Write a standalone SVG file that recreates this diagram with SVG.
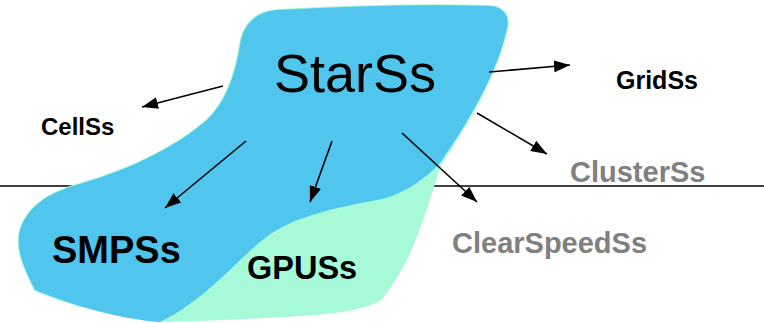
<svg xmlns="http://www.w3.org/2000/svg" width="764" height="323" viewBox="0 0 764 323">
  <style>
    .lbl { font-family: "Liberation Sans", Arial, sans-serif; font-weight: bold; fill: #000; }
    .grey { fill: #808080; }
    .edge { stroke: #000; stroke-width: 1.6; fill: none; marker-end: url(#head); }
  </style>
  <defs>
    <marker id="head" markerUnits="userSpaceOnUse" viewBox="0 0 16 12" markerWidth="16" markerHeight="12" refX="16" refY="6" orient="auto">
      <path d="M0,0 L16,6 L0,12 Z" fill="#000"/>
    </marker>
  </defs>

  <rect width="764" height="323" fill="#fff"/>

  <!-- horizontal divider -->
  <line x1="0" y1="186" x2="764" y2="186" stroke="#000" stroke-width="1.6"/>

  <!-- the StarSs family blob: mint outer region with the blue core on top -->
  <g id="blob">
    <path id="gpu-region" d="M277,10 C350,6 430,4 490,6 C505,7 511,18 506,32 C498,70 470,120 440,165 C425,210 415,255 382,298 C360,315 300,316 167,321 C130,320 70,305 35,290 C25,270 15,250 20,230 C28,205 50,192 83,183 C120,172 170,152 207,120 C228,100 236,70 240,45 C243,25 255,12 277,10 Z" fill="#A6FAD8" stroke="#A6FAD8" stroke-width="2"/>
    <path id="smp-region" d="M277,10 C350,6 430,4 490,6 C505,7 511,18 506,32 C498,70 470,120 440,163 C425,180 400,195 382,199 C340,207 295,215 265,238 C235,262 205,300 160,322 C125,320 70,305 35,290 C25,270 15,250 20,230 C28,205 50,192 83,183 C120,172 170,152 207,120 C228,100 236,70 240,45 C243,25 255,12 277,10 Z" fill="#50C5ED"/>
  </g>

  <g id="starss"><text x="274" y="92" font-family="Liberation Sans, Arial, sans-serif" font-size="54" fill="#000">StarSs</text></g>
  <g id="cellss"><text class="lbl" x="41" y="135" font-size="24">CellSs</text></g>
  <g id="gridss"><text class="lbl" x="616" y="89" font-size="25">GridSs</text></g>
  <g id="clusterss"><text class="lbl grey" x="570" y="182" font-size="29">ClusterSs</text></g>
  <g id="clearspeedss"><text class="lbl grey" x="452" y="253" font-size="29">ClearSpeedSs</text></g>
  <g id="smpss"><text class="lbl" x="52" y="263" font-size="38">SMPSs</text></g>
  <g id="gpuss"><text class="lbl" x="247" y="279" font-size="32.5">GPUSs</text></g>

  <!-- arrows from StarSs to each runtime -->
  <g id="connectors">
    <line class="edge" x1="223" y1="86" x2="142" y2="107"/>
    <line class="edge" x1="489" y1="72" x2="570" y2="65"/>
    <line class="edge" x1="477" y1="113" x2="547" y2="154"/>
    <line class="edge" x1="246" y1="141" x2="165" y2="208"/>
    <line class="edge" x1="332" y1="141" x2="310" y2="202"/>
    <line class="edge" x1="402" y1="133" x2="477" y2="202"/>
  </g>
</svg>
